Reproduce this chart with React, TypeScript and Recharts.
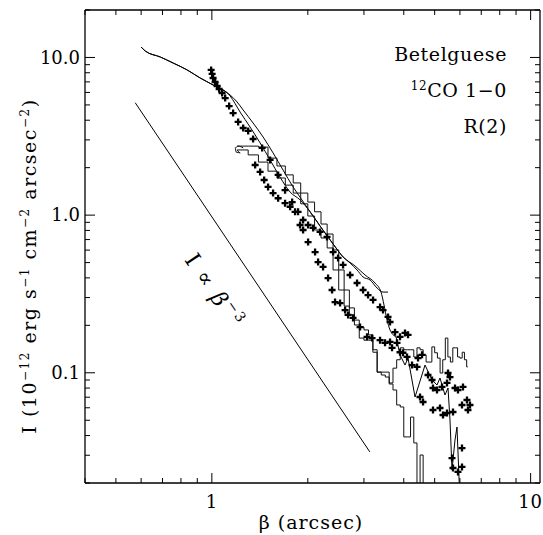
import { ComposedChart, Line, Scatter, XAxis, YAxis } from "recharts";

// log-log profile, beta in arcsec, I in 1e-12 erg s-1 cm-2 arcsec-2
const xTicks = [0.4, 0.5, 0.6, 0.7, 0.8, 0.9, 1, 2, 3, 4, 5, 6, 7, 8, 9, 10];
const yTicks = [
  0.02, 0.03, 0.04, 0.05, 0.06, 0.07, 0.08, 0.09, 0.1, 0.2, 0.3, 0.4, 0.5, 0.6, 0.7, 0.8, 0.9,
  1, 2, 3, 4, 5, 6, 7, 8, 9, 10, 20,
];

const modelA = [
  { b: 0.6, I: 11.65 }, { b: 0.618, I: 10.99 }, { b: 0.689, I: 10.07 }, { b: 0.756, I: 9.22 },
  { b: 0.837, I: 8.33 }, { b: 0.919, I: 7.41 }, { b: 1.009, I: 6.69 }, { b: 1.141, I: 5.78 },
  { b: 1.2, I: 5.22 }, { b: 1.254, I: 4.64 }, { b: 1.347, I: 3.84 }, { b: 1.448, I: 3.13 },
  { b: 1.556, I: 2.48 }, { b: 1.673, I: 1.93 }, { b: 1.798, I: 1.51 }, { b: 1.891, I: 1.3 },
  { b: 2.033, I: 1.05 }, { b: 2.185, I: 0.853 }, { b: 2.401, I: 0.656 }, { b: 2.58, I: 0.543 },
  { b: 2.714, I: 0.497 }, { b: 2.854, I: 0.449 }, { b: 2.981, I: 0.405 }, { b: 3.135, I: 0.388 },
  { b: 3.298, I: 0.345 }, { b: 3.443, I: 0.325 }, { b: 3.57, I: 0.325 },
];

const modelB = [
  { b: 0.6, I: 11.65 }, { b: 0.618, I: 10.99 }, { b: 0.689, I: 10.07 }, { b: 0.756, I: 9.22 },
  { b: 0.837, I: 8.33 }, { b: 0.919, I: 7.41 }, { b: 1.009, I: 6.69 }, { b: 1.141, I: 5.7 },
  { b: 1.227, I: 4.5 }, { b: 1.318, I: 3.62 }, { b: 1.417, I: 2.87 }, { b: 1.523, I: 2.24 },
  { b: 1.637, I: 1.74 }, { b: 1.76, I: 1.4 }, { b: 1.891, I: 1.25 }, { b: 2.033, I: 1.05 },
  { b: 2.185, I: 0.853 }, { b: 2.401, I: 0.656 }, { b: 2.58, I: 0.543 }, { b: 2.813, I: 0.476 },
  { b: 3.024, I: 0.417 }, { b: 3.251, I: 0.371 }, { b: 3.394, I: 0.325 }, { b: 3.468, I: 0.269 },
  { b: 3.545, I: 0.216 }, { b: 3.622, I: 0.187 }, { b: 3.782, I: 0.169 },
];

const modelTail = [
  { b: 3.782, I: 0.169 }, { b: 3.893, I: 0.13 }, { b: 4.036, I: 0.112 }, { b: 4.125, I: 0.124 },
  { b: 4.339, I: 0.0702 }, { b: 4.664, I: 0.112 }, { b: 4.905, I: 0.09 }, { b: 5.085, I: 0.0837 },
  { b: 5.196, I: 0.0927 }, { b: 5.387, I: 0.0723 }, { b: 5.506, I: 0.0801 }, { b: 5.585, I: 0.0502 },
  { b: 5.667, I: 0.0242 }, { b: 5.791, I: 0.0375 }, { b: 5.875, I: 0.0453 }, { b: 6.004, I: 0.015 },
];

// curl where the two binned profiles start
const histStart = [
  { b: 1.254, I: 2.67 }, { b: 1.209, I: 2.74 }, { b: 1.183, I: 2.67 }, { b: 1.192, I: 2.51 },
  { b: 1.227, I: 2.48 }, { b: 1.2, I: 2.59 },
];

const histA = [
  { b: 1.2, I: 2.59 }, { b: 1.3, I: 2.41 }, { b: 1.4, I: 2.17 }, { b: 1.5, I: 1.9 },
  { b: 1.6, I: 1.72 }, { b: 1.7, I: 1.55 }, { b: 1.8, I: 1.38 }, { b: 1.9, I: 1.18 },
  { b: 2.0, I: 0.987 }, { b: 2.1, I: 0.805 }, { b: 2.2, I: 0.716 }, { b: 2.3, I: 0.619 },
  { b: 2.4, I: 0.449 }, { b: 2.5, I: 0.335 }, { b: 2.6, I: 0.265 }, { b: 2.7, I: 0.233 },
  { b: 2.8, I: 0.201 }, { b: 2.9, I: 0.166 }, { b: 3.0, I: 0.161 }, { b: 3.1, I: 0.161 },
  { b: 3.2, I: 0.135 }, { b: 3.3, I: 0.101 }, { b: 3.4, I: 0.0968 }, { b: 3.5, I: 0.094 },
  { b: 3.6, I: 0.0849 }, { b: 3.7, I: 0.0778 }, { b: 3.8, I: 0.0625 }, { b: 3.9, I: 0.0607 },
  { b: 4.0, I: 0.0392 }, { b: 4.1, I: 0.0392 }, { b: 4.2, I: 0.0524 }, { b: 4.3, I: 0.0359 },
  { b: 4.4, I: 0.012 }, { b: 4.5, I: 0.0301 }, { b: 4.6, I: 0.012 }, { b: 4.7, I: 0.012 },
];

const histB = [
  { b: 1.2, I: 2.74 }, { b: 1.3, I: 2.74 }, { b: 1.4, I: 2.7 }, { b: 1.5, I: 2.3 },
  { b: 1.6, I: 2.05 }, { b: 1.7, I: 1.8 }, { b: 1.8, I: 1.6 }, { b: 1.9, I: 1.38 },
  { b: 2.0, I: 1.21 }, { b: 2.1, I: 1.05 }, { b: 2.2, I: 0.878 }, { b: 2.3, I: 0.759 },
  { b: 2.4, I: 0.601 }, { b: 2.5, I: 0.449 }, { b: 2.6, I: 0.335 }, { b: 2.7, I: 0.258 },
  { b: 2.8, I: 0.216 }, { b: 2.9, I: 0.195 }, { b: 3.0, I: 0.187 }, { b: 3.1, I: 0.174 },
  { b: 3.2, I: 0.14 }, { b: 3.3, I: 0.101 }, { b: 3.4, I: 0.101 }, { b: 3.5, I: 0.101 },
  { b: 3.6, I: 0.0862 }, { b: 3.7, I: 0.107 }, { b: 3.8, I: 0.121 }, { b: 3.9, I: 0.144 },
  { b: 4.0, I: 0.14 }, { b: 4.1, I: 0.14 }, { b: 4.2, I: 0.14 }, { b: 4.3, I: 0.126 },
  { b: 4.4, I: 0.144 }, { b: 4.5, I: 0.14 }, { b: 4.6, I: 0.13 }, { b: 4.7, I: 0.117 },
  { b: 4.8, I: 0.117 }, { b: 4.9, I: 0.146 }, { b: 5.0, I: 0.134 }, { b: 5.1, I: 0.124 },
  { b: 5.2, I: 0.0997 }, { b: 5.3, I: 0.121 }, { b: 5.4, I: 0.166 }, { b: 5.5, I: 0.126 },
  { b: 5.6, I: 0.117 }, { b: 5.7, I: 0.144 }, { b: 5.8, I: 0.144 }, { b: 5.9, I: 0.126 },
  { b: 6.0, I: 0.124 }, { b: 6.1, I: 0.135 }, { b: 6.2, I: 0.121 }, { b: 6.3, I: 0.109 },
  { b: 6.35, I: 0.109 },
];

const obsUpper = [
  { b: 0.995, I: 8.33 }, { b: 1.002, I: 7.86 }, { b: 1.009, I: 7.41 }, { b: 1.024, I: 6.99 },
  { b: 1.039, I: 6.59 }, { b: 1.054, I: 6.31 }, { b: 1.077, I: 5.95 }, { b: 1.101, I: 5.53 },
  { b: 1.133, I: 4.92 }, { b: 1.166, I: 4.44 }, { b: 1.209, I: 3.9 }, { b: 1.254, I: 3.57 },
  { b: 1.3, I: 3.42 }, { b: 1.347, I: 3.04 }, { b: 1.438, I: 2.67 }, { b: 1.523, I: 2.24 },
  { b: 1.614, I: 1.8 }, { b: 1.697, I: 1.44 }, { b: 1.786, I: 1.21 }, { b: 1.864, I: 1.05 },
  { b: 1.933, I: 0.931 }, { b: 2.004, I: 0.866 }, { b: 2.078, I: 0.829 }, { b: 2.185, I: 0.782 },
  { b: 2.298, I: 0.727 }, { b: 2.401, I: 0.583 }, { b: 2.488, I: 0.535 }, { b: 2.58, I: 0.483 },
  { b: 2.714, I: 0.417 }, { b: 2.854, I: 0.371 }, { b: 2.981, I: 0.335 }, { b: 3.09, I: 0.311 },
  { b: 3.204, I: 0.29 }, { b: 3.37, I: 0.261 }, { b: 3.443, I: 0.25 }, { b: 3.57, I: 0.226 },
  { b: 3.622, I: 0.21 }, { b: 3.755, I: 0.181 }, { b: 3.893, I: 0.169 }, { b: 4.036, I: 0.179 },
  { b: 4.125, I: 0.174 },
];

const obsLower = [
  { b: 1.367, I: 2.08 }, { b: 1.417, I: 1.88 }, { b: 1.459, I: 1.67 }, { b: 1.501, I: 1.51 },
  { b: 1.556, I: 1.38 }, { b: 1.614, I: 1.28 }, { b: 1.697, I: 1.19 }, { b: 1.76, I: 1.13 },
  { b: 1.824, I: 1.05 }, { b: 1.891, I: 0.866 }, { b: 1.933, I: 0.805 }, { b: 2.004, I: 0.675 },
  { b: 2.108, I: 0.583 }, { b: 2.154, I: 0.504 }, { b: 2.233, I: 0.469 }, { b: 2.315, I: 0.399 },
  { b: 2.383, I: 0.335 }, { b: 2.435, I: 0.281 }, { b: 2.525, I: 0.277 }, { b: 2.618, I: 0.25 },
  { b: 2.675, I: 0.233 }, { b: 2.773, I: 0.223 }, { b: 2.917, I: 0.195 }, { b: 3.068, I: 0.169 },
  { b: 3.181, I: 0.166 }, { b: 3.37, I: 0.161 }, { b: 3.494, I: 0.155 }, { b: 3.622, I: 0.157 },
  { b: 3.675, I: 0.144 }, { b: 3.809, I: 0.155 }, { b: 3.893, I: 0.135 }, { b: 3.978, I: 0.134 },
  { b: 4.095, I: 0.126 }, { b: 4.246, I: 0.112 }, { b: 4.402, I: 0.109 }, { b: 4.434, I: 0.124 },
  { b: 4.564, I: 0.13 }, { b: 4.498, I: 0.0702 }, { b: 4.597, I: 0.0653 }, { b: 4.765, I: 0.0968 },
  { b: 4.905, I: 0.09 }, { b: 4.94, I: 0.0801 }, { b: 5.085, I: 0.0778 }, { b: 5.272, I: 0.0813 },
  { b: 5.466, I: 0.0862 }, { b: 5.585, I: 0.094 }, { b: 5.506, I: 0.0997 }, { b: 5.791, I: 0.0801 },
  { b: 5.917, I: 0.0778 }, { b: 6.135, I: 0.0813 }, { b: 4.94, I: 0.0581 }, { b: 5.196, I: 0.0598 },
  { b: 5.31, I: 0.054 }, { b: 5.466, I: 0.0556 }, { b: 5.708, I: 0.0564 }, { b: 6.091, I: 0.0625 },
  { b: 6.314, I: 0.0672 }, { b: 6.453, I: 0.0625 }, { b: 6.36, I: 0.0581 }, { b: 5.667, I: 0.0288 },
  { b: 6.091, I: 0.0333 }, { b: 5.708, I: 0.0249 }, { b: 5.917, I: 0.0235 }, { b: 6.091, I: 0.0253 },
];

// I ∝ β^-3 guide
const slopeLine = [
  { b: 0.575, I: 5.16 },
  { b: 3.13, I: 0.0315 },
];

const FONT = "DejaVu Serif";
const axisLine = { stroke: "#000", strokeWidth: 1.3 };

const isMajor = (v: number) => Math.abs(Math.log10(v) - Math.round(Math.log10(v))) < 1e-6;

function BottomTick({ x, y, payload }: any) {
  const major = isMajor(payload.value);
  return (
    <g>
      <line x1={x} x2={x} y1={y} y2={y - (major ? 10 : 5)} stroke="#000" />
      {major && (
        <text x={x} y={y + 19} dy="0.35em" textAnchor="middle" fontFamily={FONT} fontSize={18}
          letterSpacing={1} fill="#000">
          {payload.value}
        </text>
      )}
    </g>
  );
}

function TopTick({ x, y, payload }: any) {
  const major = isMajor(payload.value);
  return <line x1={x} x2={x} y1={y} y2={y + (major ? 10 : 5)} stroke="#000" />;
}

function LeftTick({ x, y, payload }: any) {
  const major = isMajor(payload.value);
  return (
    <g>
      <line x1={x} x2={x + (major ? 10 : 5)} y1={y} y2={y} stroke="#000" />
      {major && (
        <text x={x - 5} y={y} dy="0.35em" textAnchor="end" fontFamily={FONT} fontSize={18}
          fill="#000">
          {payload.value.toFixed(1)}
        </text>
      )}
    </g>
  );
}

function RightTick({ x, y, payload }: any) {
  const major = isMajor(payload.value);
  return <line x1={x} x2={x - (major ? 10 : 5)} y1={y} y2={y} stroke="#000" />;
}

function Plus({ cx, cy }: any) {
  const s = 3.5;
  return <path d={`M${cx - s},${cy}H${cx + s}M${cx},${cy - s}V${cy + s}`} stroke="#000" strokeWidth={2.3} />;
}

const lineProps = {
  xAxisId: "b",
  yAxisId: "I",
  dataKey: "I",
  dot: false,
  stroke: "#000",
  strokeWidth: 1,
  isAnimationActive: false,
};

export default function App() {
  return (
    <div style={{ position: "absolute", left: 0, top: 0, width: 543, height: 535, background: "#fff" }}>
      <ComposedChart width={543} height={535} margin={{ top: 9, right: 2, bottom: 51, left: 84 }}>
        <XAxis xAxisId="b" type="number" dataKey="b" scale="log" domain={[0.4, 10.7]} allowDataOverflow
          ticks={xTicks} interval={0} height={1} tickSize={0} tickMargin={0} tickLine={false}
          axisLine={axisLine} tick={BottomTick} />
        <XAxis xAxisId="t" orientation="top" type="number" dataKey="b" scale="log" domain={[0.4, 10.7]}
          allowDataOverflow ticks={xTicks} interval={0} height={1} tickSize={0} tickMargin={0}
          tickLine={false} axisLine={axisLine} tick={TopTick} />
        <YAxis yAxisId="I" type="number" dataKey="I" scale="log" domain={[0.02, 20]} allowDataOverflow
          ticks={yTicks} interval={0} width={1} tickSize={0} tickMargin={0} tickLine={false}
          axisLine={axisLine} tick={LeftTick} />
        <YAxis yAxisId="r" orientation="right" type="number" dataKey="I" scale="log" domain={[0.02, 20]}
          allowDataOverflow ticks={yTicks} interval={0} width={1} tickSize={0} tickMargin={0}
          tickLine={false} axisLine={axisLine} tick={RightTick} />

        <Line {...lineProps} data={slopeLine} type="linear" />
        <Line {...lineProps} data={modelA} type="monotone" />
        <Line {...lineProps} data={modelB} type="monotone" />
        <Line {...lineProps} data={modelTail} type="linear" />
        <Line {...lineProps} data={histStart} type="monotone" stroke="#111" />
        <Line {...lineProps} data={histA} type="stepAfter" stroke="#111" />
        <Line {...lineProps} data={histB} type="stepAfter" stroke="#111" />
        <Scatter xAxisId="b" yAxisId="I" data={obsUpper} dataKey="I" shape={Plus} isAnimationActive={false} />
        <Scatter xAxisId="b" yAxisId="I" data={obsLower} dataKey="I" shape={Plus} isAnimationActive={false} />
      </ComposedChart>

      <svg width={543} height={535} style={{ position: "absolute", left: 0, top: 0, pointerEvents: "none" }}
        fontFamily={FONT} fill="#000">
        <text x={507} y={61} textAnchor="end" fontSize={19} letterSpacing={0.6}>Betelguese</text>
        <text x={507} y={97} textAnchor="end" fontSize={19} letterSpacing={0.6}>
          <tspan fontSize={12} dy={-7}>12</tspan>
          <tspan dy={7}>CO 1−0</tspan>
        </text>
        <text x={507} y={133} textAnchor="end" fontSize={19} letterSpacing={0.6}>R(2)</text>

        <text x={311} y={529} textAnchor="middle" fontSize={19} letterSpacing={1}>β (arcsec)</text>

        <text transform="translate(36,266) rotate(-90)" textAnchor="middle" fontSize={19} letterSpacing={1.5}>
          I (10<tspan fontSize={12} dy={-7}>−12</tspan>
          <tspan dy={7}> erg s</tspan>
          <tspan fontSize={12} dy={-7}>−1</tspan>
          <tspan dy={7}> cm</tspan>
          <tspan fontSize={12} dy={-7}>−2</tspan>
          <tspan dy={7}> arcsec</tspan>
          <tspan fontSize={12} dy={-7}>−2</tspan>
          <tspan dy={7}>)</tspan>
        </text>

        <text transform="translate(184,260) rotate(56)" fontSize={22} letterSpacing={2}>
          I ∝ <tspan fontStyle="italic">β</tspan>
          <tspan fontSize={14} dy={-10}>−3</tspan>
        </text>
      </svg>
    </div>
  );
}
